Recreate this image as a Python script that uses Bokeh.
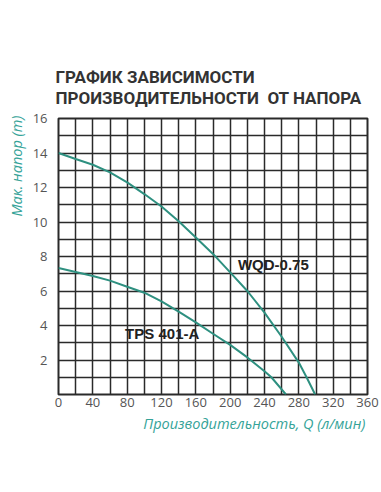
from bokeh.plotting import figure
from bokeh.models import Range1d, FixedTicker, Label, Title
from bokeh.embed import file_html
from bokeh.resources import INLINE

# Data
wqd_q = [0, 20, 40, 60, 80, 100, 120, 140, 160, 180, 200, 220, 240, 260, 280, 289, 299]
wqd_h = [14.0, 13.65, 13.32, 12.88, 12.3, 11.62, 10.9, 10.04, 9.1, 8.15, 7.08, 6.0, 4.75, 3.35, 1.85, 1.0, 0.0]
tps_q = [0, 20, 40, 60, 80, 100, 120, 140, 160, 180, 200, 220, 240, 248, 265]
tps_h = [7.33, 7.1, 6.87, 6.6, 6.25, 5.9, 5.4, 4.8, 4.18, 3.52, 2.88, 2.15, 1.35, 1.0, 0.0]
x_ticks = [0, 40, 80, 120, 160, 200, 240, 280, 320, 360]
y_ticks = [2, 4, 6, 8, 10, 12, 14, 16]
title_lines = ["ГРАФИК ЗАВИСИМОСТИ", "ПРОИЗВОДИТЕЛЬНОСТИ\u00a0 ОТ НАПОРА"]
x_title = "Производительность, Q (л/мин)"
y_title = "Мак. напор (m)"
series_names = ["WQD-0.75", "TPS 401-A"]

TEAL = "#2e9080"
LABEL_TEAL = "#35a398"
GRID = "#2a2a2a"

p = figure(width=381, height=492, output_backend="svg", toolbar_location=None,
           x_range=Range1d(0, 360), y_range=Range1d(0, 16),
           min_border_left=56, min_border_right=14, min_border_top=118, min_border_bottom=98)
p.background_fill_color = "white"
p.border_fill_color = "white"
p.outline_line_color = GRID
p.outline_line_width = 2

p.xgrid.ticker = FixedTicker(ticks=list(range(0, 361, 20)))
p.ygrid.ticker = FixedTicker(ticks=list(range(0, 17, 1)))
for g in (p.xgrid, p.ygrid):
    g.grid_line_color = GRID
    g.grid_line_width = 1.5
    g.grid_line_alpha = 1.0

for ax in (p.xaxis, p.yaxis):
    ax.axis_line_color = None
    ax.major_tick_line_color = None
    ax.minor_tick_line_color = None
    ax.major_label_text_font = "Open Sans"
    ax.major_label_text_font_size = "13px"
    ax.major_label_text_color = "#555555"
p.xaxis.ticker = FixedTicker(ticks=x_ticks)
p.yaxis.ticker = FixedTicker(ticks=y_ticks)
p.xaxis.major_label_standoff = -3
p.yaxis.major_label_standoff = 5

p.line(wqd_q, wqd_h, line_color=TEAL, line_width=2)
p.line(tps_q, tps_h, line_color=TEAL, line_width=2)

p.add_layout(Label(x=209, y=7.55, text=series_names[0], text_font="Liberation Sans",
                   text_font_style="bold", text_font_size="15px", text_color="#222222",
                   text_baseline="middle", text_align="left"))
p.add_layout(Label(x=77.6, y=3.54, text=series_names[1], text_font="Liberation Sans",
                   text_font_style="bold", text_font_size="15px", text_color="#222222",
                   text_baseline="middle", text_align="left"))

# Two-line title (above panel)
p.add_layout(Title(text="\n".join(title_lines), text_font="Roboto", text_font_style="bold",
                   text_font_size="17px", text_color="#333333", align="left",
                   text_line_height=1.05, offset=-3, standoff=21), "above")

# Axis titles
p.add_layout(Title(text=x_title, text_font="Open Sans", text_font_style="italic",
                   text_font_size="14.5px", text_color=LABEL_TEAL, align="right",
                   offset=2, standoff=4), "below")
p.add_layout(Title(text=y_title, text_font="Open Sans", text_font_style="italic",
                   text_font_size="14.5px", text_color=LABEL_TEAL, align="right",
                   offset=-3, standoff=8), "left")

open("out.html", "w").write(file_html(p, INLINE))
